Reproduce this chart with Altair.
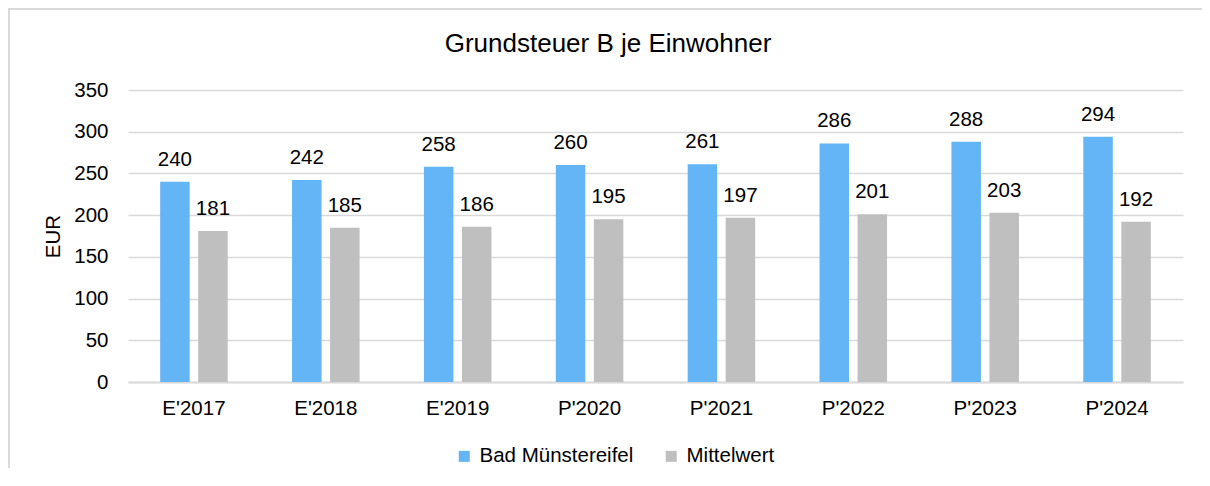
import altair as alt
import pandas as pd

categories = ["E'2017", "E'2018", "E'2019", "P'2020", "P'2021", "P'2022", "P'2023", "P'2024"]
series_names = ["Bad Münstereifel", "Mittelwert"]
bad_values = [240, 242, 258, 260, 261, 286, 288, 294]
mittel_values = [181, 185, 186, 195, 197, 201, 203, 192]
y_ticks = [0, 50, 100, 150, 200, 250, 300, 350]
colors = ["#64B5F6", "#BFBFBF"]
title_text = "Grundsteuer B je Einwohner"

rows = []
for c, b, m in zip(categories, bad_values, mittel_values):
    rows.append({"Jahr": c, "Reihe": series_names[0], "Wert": b})
    rows.append({"Jahr": c, "Reihe": series_names[1], "Wert": m})
df = pd.DataFrame(rows)

FONT = "Liberation Sans, Arial, sans-serif"
FS = 20.5
TXT = "#000000"
GRID = "#D9D9D9"

W, H = 1055, 292

x = alt.X(
    "Jahr:N", sort=categories,
    scale=alt.Scale(paddingInner=0.488, paddingOuter=0.244),
    axis=alt.Axis(title=None, labelAngle=0, labelFontSize=FS, labelFont=FONT,
                  labelColor=TXT, labelPadding=32, labelBaseline="alphabetic",
                  ticks=False, tickSize=0, domainColor=GRID, domainWidth=2, grid=False),
)
xoff = alt.XOffset("Reihe:N", sort=series_names,
                   scale=alt.Scale(paddingInner=0.224, paddingOuter=0))
y = alt.Y(
    "Wert:Q", scale=alt.Scale(domain=[0, 350], nice=False),
    axis=alt.Axis(values=y_ticks, title="EUR", titleFont=FONT, titleFontSize=FS,
                  titleFontWeight="normal", titleColor=TXT, titleX=-75, titleY=H / 2,
                  titleAngle=270, titleAlign="center", titleBaseline="middle",
                  labelFont=FONT, labelFontSize=FS, labelColor=TXT, labelPadding=20,
                  ticks=False, tickSize=0, domain=False, gridColor=GRID, gridWidth=1.7),
)
color = alt.Color(
    "Reihe:N", sort=series_names,
    scale=alt.Scale(domain=series_names, range=colors),
    legend=alt.Legend(title=None, orient="none", legendX=326, legendY=356,
                      direction="horizontal", symbolType="square", symbolSize=121,
                      symbolStrokeWidth=0, labelFont=FONT, labelFontSize=FS,
                      labelColor=TXT, labelOffset=5, columnPadding=27),
)

bars = alt.Chart(df).mark_bar().encode(x=x, xOffset=xoff, y=y, color=color)

labels = alt.Chart(df).mark_text(
    baseline="alphabetic", dy=-16, font=FONT, fontSize=FS, color=TXT
).encode(x=x, xOffset=xoff, y=y, text=alt.Text("Wert:Q"))

one = pd.DataFrame({"a": [0]})
title = alt.Chart(one).mark_text(
    font=FONT, fontSize=26, color=TXT, align="center", baseline="alphabetic"
).encode(x=alt.value(480), y=alt.value(-38), text=alt.value(title_text))

border_left = alt.Chart(one).mark_rule(color=GRID, strokeWidth=2).encode(
    x=alt.value(-119), y=alt.value(-81), y2=alt.value(H + 100))
border_top = alt.Chart(one).mark_rule(color=GRID, strokeWidth=2).encode(
    x=alt.value(-120), x2=alt.value(W + 19), y=alt.value(-81))

chart = alt.layer(border_left, border_top, bars, labels, title).properties(
    width=W, height=H,
    autosize=alt.AutoSizeParams(type="none"),
    padding={"left": 120, "top": 82, "right": 19, "bottom": 86},
    background="transparent",
).configure_view(stroke=None)

chart.save("out.html", embed_options={"renderer": "svg", "actions": False})
